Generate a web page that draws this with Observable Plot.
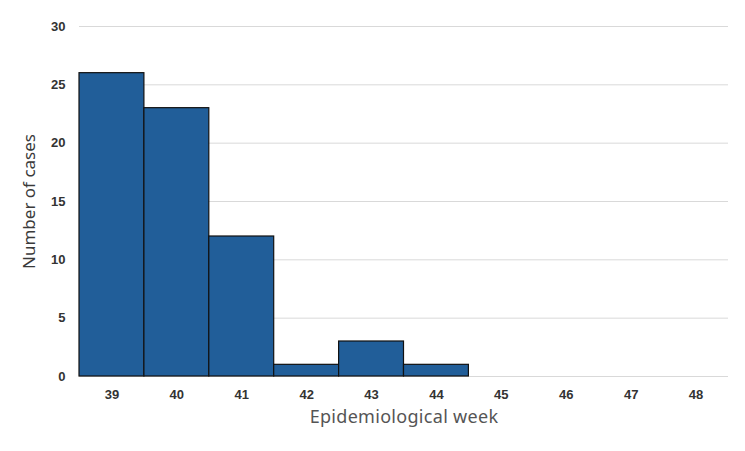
<!DOCTYPE html>
<html><head><meta charset="utf-8">
<script src="https://cdn.jsdelivr.net/npm/d3@7"></script>
<script src="https://cdn.jsdelivr.net/npm/@observablehq/plot@0.6"></script>
<style>
body{margin:0;background:#fff;}
#chart svg{display:block;}
</style>
</head><body><div id="chart"></div>
<script>
const weeks = [39, 40, 41, 42, 43, 44, 45, 46, 47, 48];
const cases = [26, 23, 12, 1, 3, 1, 0, 0, 0, 0];
const yTicks = [0, 5, 10, 15, 20, 25, 30];

const data = weeks.map((w, i) => ({week: w, cases: cases[i]}));

const chart = Plot.plot({
  width: 745,
  height: 451,
  marginLeft: 79,
  marginRight: 17,
  marginTop: 26,
  marginBottom: 75,
  style: {fontFamily: "Liberation Sans, Arial, sans-serif", background: "#fff"},
  x: {type: "band", domain: weeks, padding: 0, round: false},
  y: {domain: [0, 30], ticks: yTicks},
  marks: [
    Plot.gridY(yTicks, {stroke: "#d9d9d9", strokeOpacity: 1, strokeWidth: 1}),
    Plot.barY(data.filter(d => d.cases > 0), {x: "week", y: "cases", fill: "#215e99", stroke: "#111", strokeWidth: 1.2}),
    Plot.axisY(yTicks, {tickSize: 0, tickPadding: 14, fontSize: 13, fontWeight: "bold", color: "#333",
      label: "Number of cases", labelAnchor: "center", labelArrow: "none", labelOffset: 57}),
    Plot.axisX({tickSize: 0, tickPadding: 13, fontSize: 13, fontWeight: "bold", color: "#333",
      label: "Epidemiological week", labelAnchor: "center", labelArrow: "none", labelOffset: 46})
  ]
});
document.getElementById("chart").append(chart);
// style axis labels
chart.querySelectorAll("g[aria-label='y-axis label'] text").forEach(t => {
  t.setAttribute("font-size", "17");
  t.setAttribute("font-weight", "normal");
  t.setAttribute("fill", "#3a3a3a");
  t.style.fontFamily = "Noto Sans, sans-serif";
});
chart.querySelectorAll("g[aria-label='x-axis label'] text").forEach(t => {
  t.setAttribute("font-size", "18");
  t.setAttribute("font-weight", "normal");
  t.setAttribute("fill", "#555");
  t.setAttribute("letter-spacing", "0.3");
  t.style.fontFamily = "Noto Sans, sans-serif";
});
</script>
</body></html>
